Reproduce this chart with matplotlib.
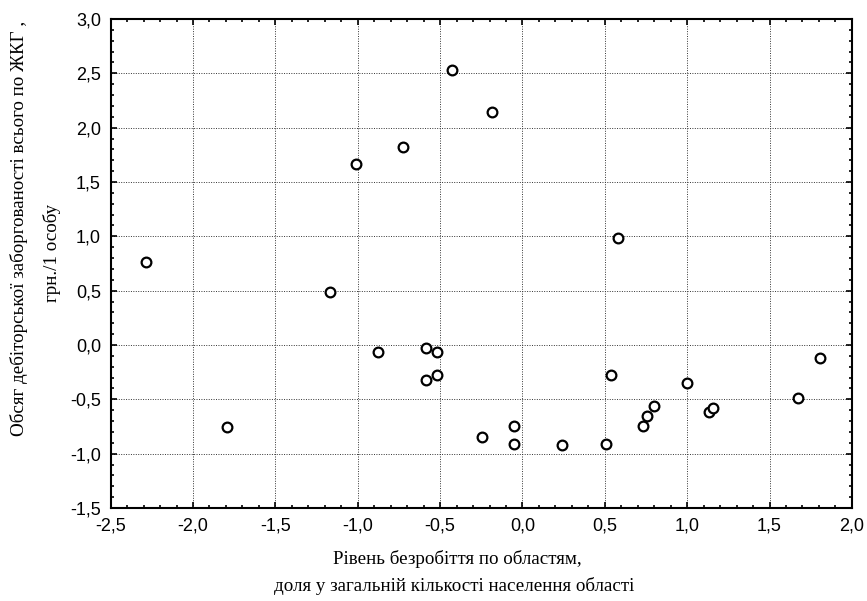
import matplotlib.pyplot as plt
from matplotlib.ticker import MultipleLocator, FuncFormatter

plt.rcParams["font.family"] = ["Liberation Sans", "DejaVu Sans"]

# unemployment level (standardised) vs. receivables per person (standardised)
unemployment = [-2.283, -1.794, -1.169, -1.013, -0.877, -0.724, -0.584, -0.518,
                -0.584, -0.518, -0.428, -0.246, -0.186, -0.052, -0.052, 0.241,
                0.508, 0.577, 0.535, 0.731, 0.759, 0.797, 1.000, 1.135, 1.159,
                1.673, 1.806]
receivables = [0.764, -0.753, 0.488, 1.667, -0.061, 1.821, -0.024, -0.067,
               -0.324, -0.272, 2.534, -0.851, 2.148, -0.747, -0.909, -0.922,
               -0.912, 0.984, -0.272, -0.741, -0.652, -0.563, -0.348, -0.615,
               -0.578, -0.490, -0.122]

x_label = ["Рівень безробіття по областям,",
           "доля у загальній кількості населення області"]
y_label = ["Обсяг дебіторської заборгованості всього по ЖКГ ,",
           "грн./1 особу"]

fig = plt.figure(figsize=(8.67, 6.01), dpi=100)
ax = fig.add_axes([0.1276, 0.1547, 0.855, 0.8137])

ax.plot(unemployment, receivables, "o", markersize=7, markerfacecolor="white",
        markeredgecolor="black", markeredgewidth=1.6, zorder=3)

ax.set_xlim(-2.5, 2.0)
ax.set_ylim(-1.5, 3.0)
ax.xaxis.set_major_locator(MultipleLocator(0.5))
ax.yaxis.set_major_locator(MultipleLocator(0.5))
ax.xaxis.set_minor_locator(MultipleLocator(0.1))
ax.yaxis.set_minor_locator(MultipleLocator(0.1))

comma = FuncFormatter(lambda v, p: f"{v:.1f}".replace(".", ",").replace("-0,0", "0,0"))
ax.xaxis.set_major_formatter(comma)
ax.yaxis.set_major_formatter(comma)

ax.tick_params(which="both", direction="in", top=True, right=True, width=1.2)
ax.tick_params(which="major", length=4, labelsize=13, pad=7)
ax.tick_params(which="minor", length=2.5)

for s in ax.spines.values():
    s.set_linewidth(1.5)

ax.grid(True, which="major", color="#333333", linestyle=(0, (1, 1.5)), linewidth=0.7)
ax.set_axisbelow(True)

serif = dict(family="Liberation Serif", fontsize=13.7, ha="center", va="center")
fig.text(0.528, 0.0699, x_label[0], **serif)
fig.text(0.524, 0.025, x_label[1], **serif)
fig.text(0.0219, 0.6206, y_label[0], rotation=90, **serif)
fig.text(0.060, 0.579, y_label[1], rotation=90, **serif)

fig.savefig("out.png", dpi=100)
